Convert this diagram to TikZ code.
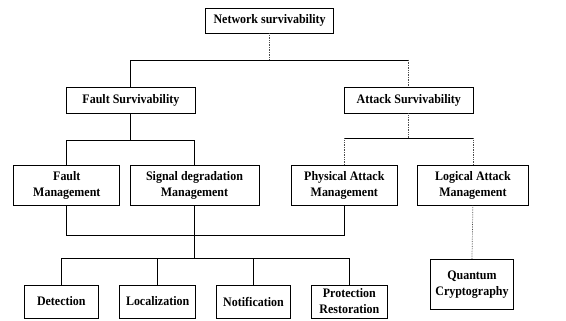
\documentclass[tikz,border=0pt]{standalone}
\usepackage{fontspec}
\setmainfont{Liberation Serif}
\begin{document}
\begin{tikzpicture}[x=1pt,y=-1pt,xscale=0.9218,
  every node/.style={transform shape},
  box/.style={draw=black, line width=0.8pt, inner sep=0pt, align=center,
    font=\fontsize{13}{16}\selectfont\bfseries},
  link/.style={draw=black, line width=0.8pt},
  faint/.style={draw=black!70, line width=0.7pt, densely dotted}]
\useasboundingbox (0,0) rectangle (614,320);
\fill[white] (0,0) rectangle (614,320);
% nodes
\node[box, minimum width=139pt, minimum height=25pt] (net) at (292.5,20.5) {Network survivability};
\node[box, minimum width=140pt, minimum height=26pt] (fs) at (142,100) {Fault Survivability};
\node[box, minimum width=139pt, minimum height=26pt] (as) at (443.5,100) {Attack Survivability};
\node[box, minimum width=115pt, minimum height=40pt] (fm) at (72.5,185) {Fault\\Management};
\node[box, minimum width=140pt, minimum height=40pt] (sd) at (211,185) {Signal degradation\\Management};
\node[box, minimum width=115pt, minimum height=40pt] (pa) at (373.5,185) {Physical Attack\\Management};
\node[box, minimum width=120pt, minimum height=40pt] (la) at (513,185) {Logical Attack\\Management};
\node[box, minimum width=81pt, minimum height=33pt] (det) at (66.5,301.5) {Detection};
\node[box, minimum width=82pt, minimum height=33pt] (loc) at (171,301.5) {Localization};
\node[box, minimum width=80pt, minimum height=33pt] (not) at (275,301.5) {Notification};
\node[box, minimum width=82pt, minimum height=33pt] (pro) at (379,301.5) {Protection\\Restoration};
\node[box, minimum width=90pt, minimum height=50pt] (qc) at (512,284.5) {Quantum\\Cryptography};
% bus coordinates
\coordinate (b1) at (0,60);
\coordinate (b2) at (0,140);
\coordinate (b3) at (0,138);
\coordinate (b4) at (0,235);
\coordinate (b5) at (0,258);
% connectors
\draw[faint] (net.south) -- (net.south |- b1);
\draw[link] (fs.north) -- (fs.north |- b1) -- (as.north |- b1);
\draw[faint] (as.north |- b1) -- (as.north);
\draw[link] (fs.south) -- (fs.south |- b2);
\draw[link] (fm.north) -- (fm.north |- b2) -- (sd.north |- b2) -- (sd.north);
\draw[faint] (as.south) -- (as.south |- b3);
\draw[link] (pa.north |- b3) -- (la.north |- b3);
\draw[faint] (pa.north) -- (pa.north |- b3);
\draw[faint] (la.north) -- (la.north |- b3);
\draw[link] (fm.south) -- (fm.south |- b4) -- (pa.south |- b4) -- (pa.south);
\draw[link] (sd.south) -- (sd.south |- b5);
\draw[link] (det.north) -- (det.north |- b5) -- (pro.north |- b5) -- (pro.north);
\draw[link] (loc.north) -- (loc.north |- b5);
\draw[link] (not.north) -- (not.north |- b5);
\draw[faint] (la.south) -- (qc.north);
\end{tikzpicture}
\end{document}
